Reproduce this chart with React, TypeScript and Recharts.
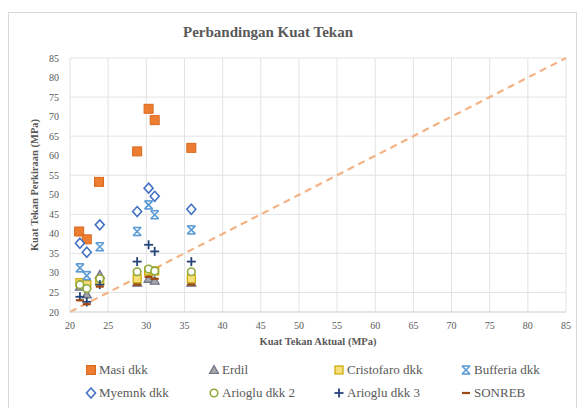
import {
  ScatterChart,
  Scatter,
  XAxis,
  YAxis,
  CartesianGrid,
  ReferenceLine,
  Label,
} from "recharts";

// values (x = kuat tekan aktual, y = perkiraan)
const masi = [
  { x: 21.2, y: 40.6 }, { x: 22.2, y: 38.6 }, { x: 23.8, y: 53.3 }, { x: 28.8, y: 61.1 },
  { x: 30.3, y: 72.0 }, { x: 31.1, y: 69.1 }, { x: 35.9, y: 62.0 },
];
const erdil = [
  { x: 21.3, y: 26.5 }, { x: 22.2, y: 24.5 }, { x: 23.9, y: 29.5 }, { x: 28.8, y: 27.5 },
  { x: 30.3, y: 28.5 }, { x: 31.1, y: 28.0 }, { x: 35.9, y: 27.5 },
];
const cristofaro = [
  { x: 21.3, y: 27.5 }, { x: 22.2, y: 27.0 }, { x: 23.9, y: 28.0 }, { x: 28.8, y: 28.5 },
  { x: 30.3, y: 30.5 }, { x: 31.1, y: 30.5 }, { x: 35.9, y: 28.5 },
];
const bufferia = [
  { x: 21.3, y: 31.3 }, { x: 22.2, y: 29.3 }, { x: 23.9, y: 36.7 }, { x: 28.8, y: 40.6 },
  { x: 30.3, y: 47.4 }, { x: 31.1, y: 44.9 }, { x: 35.9, y: 41.0 },
];
const myemnk = [
  { x: 21.3, y: 37.6 }, { x: 22.2, y: 35.3 }, { x: 23.9, y: 42.3 }, { x: 28.8, y: 45.7 },
  { x: 30.3, y: 51.7 }, { x: 31.1, y: 49.6 }, { x: 35.9, y: 46.3 },
];
const arioglu2 = [
  { x: 21.3, y: 27.0 }, { x: 22.2, y: 26.0 }, { x: 23.9, y: 28.5 }, { x: 28.8, y: 30.3 },
  { x: 30.3, y: 31.0 }, { x: 31.1, y: 30.5 }, { x: 35.9, y: 30.3 },
];
const arioglu3 = [
  { x: 21.3, y: 23.9 }, { x: 22.2, y: 22.6 }, { x: 23.9, y: 27.0 }, { x: 28.8, y: 32.9 },
  { x: 30.3, y: 37.2 }, { x: 31.1, y: 35.5 }, { x: 35.9, y: 32.9 },
];
const sonreb = [
  { x: 21.3, y: 23.0 }, { x: 22.2, y: 22.0 }, { x: 23.9, y: 26.5 }, { x: 28.8, y: 27.0 },
  { x: 30.3, y: 29.0 }, { x: 31.1, y: 28.5 }, { x: 35.9, y: 27.0 },
];

const axisTicks = [20, 25, 30, 35, 40, 45, 50, 55, 60, 65, 70, 75, 80, 85];
const axisMin = 20;
const axisMax = 85;

const FONT = "Liberation Serif, Times New Roman, serif";
const GREY = "#595959";

type Kind = "square" | "triangle" | "ysquare" | "x" | "diamond" | "circle" | "plus" | "dash";

const marker = (kind: Kind, cx: number, cy: number) => {
  switch (kind) {
    case "square":
      return <rect x={cx - 4.5} y={cy - 4.5} width={9} height={9} fill="#ED7D31" stroke="#d86a1e" />;
    case "triangle":
      return (
        <polygon
          points={`${cx},${cy - 4.5} ${cx + 4.5},${cy + 3.5} ${cx - 4.5},${cy + 3.5}`}
          fill="#a5a5a5"
          stroke="#6b7288"
          strokeWidth={1.2}
        />
      );
    case "ysquare":
      return (
        <rect x={cx - 4} y={cy - 4} width={8} height={8} fill="#f7df7c" stroke="#c9a800" strokeWidth={1.2} />
      );
    case "x":
      return (
        <g stroke="#5B9BD5" strokeWidth={1.6}>
          <line x1={cx - 4} y1={cy - 4} x2={cx + 4} y2={cy + 4} />
          <line x1={cx - 4} y1={cy + 4} x2={cx + 4} y2={cy - 4} />
          <line x1={cx - 4} y1={cy - 4} x2={cx + 4} y2={cy - 4} />
          <line x1={cx - 4} y1={cy + 4} x2={cx + 4} y2={cy + 4} />
        </g>
      );
    case "diamond":
      return (
        <polygon
          points={`${cx},${cy - 5} ${cx + 4.5},${cy} ${cx},${cy + 5} ${cx - 4.5},${cy}`}
          fill="#fff"
          stroke="#4472C4"
          strokeWidth={1.6}
        />
      );
    case "circle":
      return <circle cx={cx} cy={cy} r={3.8} fill="#fff" stroke="#8faa3a" strokeWidth={1.6} />;
    case "plus":
      return (
        <g stroke="#264478" strokeWidth={1.8}>
          <line x1={cx - 4.5} y1={cy} x2={cx + 4.5} y2={cy} />
          <line x1={cx} y1={cy - 4.5} x2={cx} y2={cy + 4.5} />
        </g>
      );
    case "dash":
      return <line x1={cx - 4} y1={cy} x2={cx + 4} y2={cy} stroke="#9E480E" strokeWidth={2.2} />;
  }
};

const shapeOf = (kind: Kind) => (props: any) => marker(kind, props.cx, props.cy);

const series: { name: string; data: { x: number; y: number }[]; kind: Kind }[] = [
  { name: "Masi dkk", data: masi, kind: "square" },
  { name: "Erdil", data: erdil, kind: "triangle" },
  { name: "Cristofaro dkk", data: cristofaro, kind: "ysquare" },
  { name: "Bufferia dkk", data: bufferia, kind: "x" },
  { name: "Myemnk dkk", data: myemnk, kind: "diamond" },
  { name: "Arioglu dkk 2", data: arioglu2, kind: "circle" },
  { name: "Arioglu dkk 3", data: arioglu3, kind: "plus" },
  { name: "SONREB", data: sonreb, kind: "dash" },
];

const legendCols = [85, 208, 333, 460];
const legendRows = [370, 393];

export default function App() {
  return (
    <div style={{ position: "absolute", left: 0, top: 0, width: 584, height: 408, background: "#fff", fontFamily: FONT }}>
      <div
        style={{
          position: "absolute",
          left: 8,
          top: 12,
          width: 569,
          height: 400,
          border: "1px solid #d9d9d9",
          boxSizing: "border-box",
        }}
      />
      <div
        style={{
          position: "absolute",
          left: 0,
          width: 536,
          top: 24,
          textAlign: "center",
          fontSize: 15,
          fontWeight: "bold",
          color: GREY,
        }}
      >
        Perbandingan Kuat Tekan
      </div>
      <div style={{ position: "absolute", left: 0, top: 0 }}>
        <ScatterChart width={584} height={408} margin={{ top: 58, right: 18, bottom: 66, left: 30 }}>
          <CartesianGrid stroke="#e3e3e3" />
          <XAxis
            type="number"
            dataKey="x"
            domain={[axisMin, axisMax]}
            ticks={axisTicks}
            height={30}
            axisLine={{ stroke: "#d9d9d9" }}
            tickLine={false}
            tickSize={0}
            tickMargin={10}
            tick={{ fill: GREY, fontSize: 10, fontFamily: FONT }}
          >
            <Label
              value="Kuat Tekan Aktual (MPa)"
              position="bottom"
              offset={-4}
              style={{ fill: GREY, fontSize: 10.5, fontWeight: "bold", fontFamily: FONT }}
            />
          </XAxis>
          <YAxis
            type="number"
            dataKey="y"
            domain={[axisMin, axisMax]}
            ticks={axisTicks}
            width={40}
            axisLine={false}
            tickLine={false}
            tickSize={0}
            tickMargin={11}
            tick={{ fill: GREY, fontSize: 10, fontFamily: FONT }}
          >
            <Label
              value="Kuat Tekan Perkiraan (MPa)"
              angle={-90}
              position="insideLeft"
              offset={4}
              style={{ fill: GREY, fontSize: 10.5, fontWeight: "bold", fontFamily: FONT, textAnchor: "middle" }}
            />
          </YAxis>
          <ReferenceLine
            segment={[
              { x: axisMin, y: axisMin },
              { x: axisMax, y: axisMax },
            ]}
            stroke="#F4B183"
            strokeWidth={2.2}
            strokeDasharray="7 5"
            ifOverflow="visible"
          />
          {series.map((s) => (
            <Scatter
              key={s.name}
              name={s.name}
              data={s.data}
              shape={shapeOf(s.kind)}
              isAnimationActive={false}
            />
          ))}
        </ScatterChart>
      </div>
      {series.map((s, i) => {
        const left = legendCols[i % 4];
        const top = legendRows[Math.floor(i / 4)];
        return (
          <div
            key={s.name}
            style={{
              position: "absolute",
              left,
              top: top - 9,
              height: 18,
              display: "flex",
              alignItems: "center",
              fontSize: 13,
              color: GREY,
              whiteSpace: "nowrap",
            }}
          >
            <svg width={12} height={12} style={{ marginRight: 2 }}>
              {marker(s.kind, 6, 6)}
            </svg>
            {s.name}
          </div>
        );
      })}
    </div>
  );
}
